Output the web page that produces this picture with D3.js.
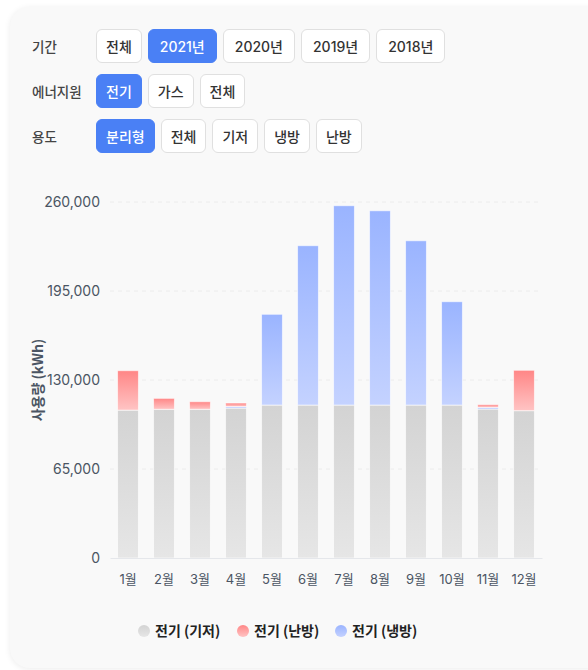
<!DOCTYPE html>
<html>
<head>
<meta charset="utf-8">
<script src="https://cdn.jsdelivr.net/npm/d3@7"></script>
<style>
  body { margin: 0; width: 588px; height: 670px; background: #fff; overflow: hidden;
         font-family: "Noto Sans CJK KR", "Noto Sans", sans-serif; }
  .card { position: absolute; left: 10px; top: 7px; width: 600px; height: 661px;
          background: #f9f9f9; border-radius: 20px; box-shadow: 0 1px 6px rgba(0,0,0,0.08); }
  .row { position: absolute; left: 32px; height: 34px; display: flex; align-items: center; }
  .row .lab { width: 64px; font-size: 13.5px; color: #444; font-weight: 500; }
  .btn { height: 34px; box-sizing: border-box; padding: 0 9px; margin-right: 6px; display: flex;
         align-items: center; font-size: 14px; color: #333; background: #fff; font-weight: 500;
         font-family: Inter, "Noto Sans CJK KR", sans-serif;
         border: 1px solid #e0e0e0; border-radius: 6px; }
  .btn.num { padding: 0 11px; }
  .btn.on { background: #4a80f5; border-color: #4a80f5; color: #fff; }
  svg { position: absolute; left: 0; top: 0; }
</style>
</head>
<body>
<div class="card"></div>
<div id="filters"></div>
<script>
// filter rows
const filterRows = [
  { label: "기간", items: ["전체", "2021년", "2020년", "2019년", "2018년"], active: "2021년" },
  { label: "에너지원", items: ["전기", "가스", "전체"], active: "전기" },
  { label: "용도", items: ["분리형", "전체", "기저", "냉방", "난방"], active: "분리형" }
];

// chart data (kWh)
const months = ["1월","2월","3월","4월","5월","6월","7월","8월","9월","10월","11월","12월"];
const baseLoad = [108000, 108600, 108600, 109500, 111700, 111700, 111700, 111700, 111700, 111700, 108800, 107600];
const cooling  = [0, 0, 0, 1100, 66300, 116400, 145600, 141900, 120000, 75500, 1200, 0];
const heating  = [28800, 8000, 5550, 2600, 0, 0, 0, 0, 0, 0, 2000, 29500];
const yTicks = [0, 65000, 130000, 195000, 260000];

const seriesNames = { base: "전기 (기저)", heat: "전기 (난방)", cool: "전기 (냉방)" };

// buttons
const rows = d3.select("#filters").selectAll(".row")
  .data(filterRows).enter()
  .append("div").attr("class", "row")
  .style("top", (d, i) => (29 + i * 45) + "px");
rows.append("div").attr("class", "lab").text(d => d.label);
rows.selectAll(".btn").data(d => d.items.map(t => ({ t, on: t === d.active })))
  .enter().append("div")
  .attr("class", d => "btn" + (d.on ? " on" : "") + (/\d/.test(d.t) ? " num" : ""))
  .text(d => d.t);

const svg = d3.select("body").append("svg").attr("width", 588).attr("height", 670);

const defs = svg.append("defs");
const grads = [
  ["g-base", "#d3d3d3", "#e6e6e6"],
  ["g-heat", "#ff8686", "#ffc4c4"],
  ["g-cool", "#9ab4ff", "#c4d2ff"]
];
grads.forEach(([id, top, bottom]) => {
  const g = defs.append("linearGradient").attr("id", id)
    .attr("x1", 0).attr("y1", 0).attr("x2", 0).attr("y2", 1);
  g.append("stop").attr("offset", "0%").attr("stop-color", top);
  g.append("stop").attr("offset", "100%").attr("stop-color", bottom);
});

const x = d3.scaleBand().domain(months).range([110, 542]).paddingInner(0.42).paddingOuter(0.21);
const y = d3.scaleLinear().domain([0, 260000]).range([558, 202]);

// gridlines
svg.append("g").selectAll("line")
  .data(yTicks.filter(t => t > 0)).enter()
  .append("line")
  .attr("x1", 110).attr("x2", 542)
  .attr("y1", d => y(d)).attr("y2", d => y(d))
  .attr("stroke", "#ececec").attr("stroke-dasharray", "4,4");

// y axis
const yAxis = svg.append("g").attr("transform", "translate(110,0)")
  .call(d3.axisLeft(y).tickValues(yTicks).tickFormat(d3.format(",")).tickSize(0).tickPadding(10));
yAxis.select(".domain").remove();
yAxis.selectAll("text").attr("font-size", 14).attr("fill", "#4b5563")
  .attr("font-family", "Inter, 'Noto Sans', sans-serif");

// stacked bars
const rowsData = months.map((m, i) => ({ month: m, base: baseLoad[i], cool: cooling[i], heat: heating[i] }));
const stack = d3.stack().keys(["base", "cool", "heat"])(rowsData);

svg.append("g").selectAll("g")
  .data(stack).enter()
  .append("g").attr("fill", d => "url(#g-" + d.key + ")")
  .selectAll("rect")
  .data(d => d.filter(p => p[1] - p[0] > 0)).enter()
  .append("rect")
  .attr("x", d => x(d.data.month))
  .attr("width", x.bandwidth())
  .attr("y", d => y(d[1]))
  .attr("height", d => y(d[0]) - y(d[1]))
  .attr("stroke", "rgba(255,255,255,0.6)")
  .attr("stroke-width", 1);

// x axis
const xAxis = svg.append("g").attr("transform", "translate(0,558)")
  .call(d3.axisBottom(x).tickSize(0).tickPadding(17));
xAxis.select(".domain").attr("stroke", "#e5e7eb");
xAxis.selectAll("text").attr("font-size", 13).attr("fill", "#4b5563")
  .attr("font-family", "Inter, 'Noto Sans CJK KR', sans-serif");

// y title
svg.append("text")
  .attr("transform", "translate(43,380) rotate(-90)")
  .attr("text-anchor", "middle")
  .attr("font-size", 14).attr("font-weight", 600).attr("fill", "#4b5563")
  .text("사용량 (kWh)");

// legend
const legendKeys = ["base", "heat", "cool"];
const legendX = [144, 243, 341];
const leg = svg.append("g").selectAll("g")
  .data(legendKeys).enter()
  .append("g").attr("transform", (d, i) => "translate(" + legendX[i] + ",631)");
leg.append("circle").attr("r", 6).attr("fill", d => "url(#g-" + d + ")");
leg.append("text").attr("x", 11).attr("dy", "0.35em")
  .attr("font-size", 14).attr("font-weight", 600).attr("fill", "#222")
  .text(d => seriesNames[d]);
</script>
</body>
</html>
